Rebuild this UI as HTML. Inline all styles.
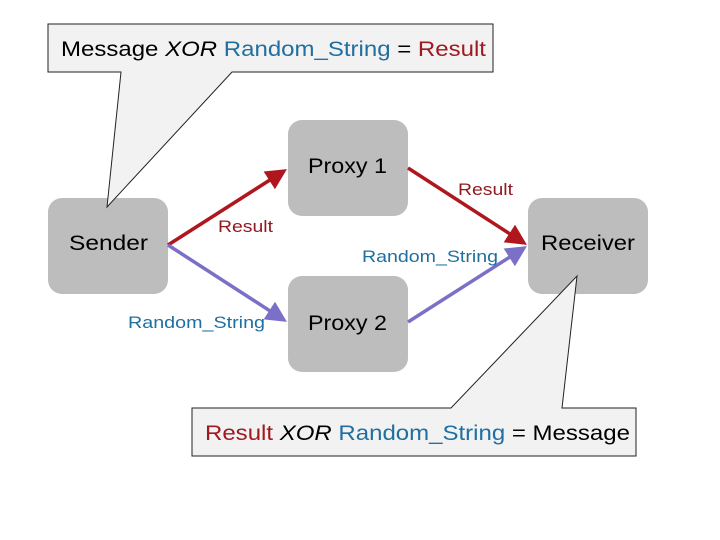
<!DOCTYPE html>
<html><head><meta charset="utf-8"><style>
body{margin:0;width:720px;height:540px;background:#fff;overflow:hidden}
svg{display:block}
text{font-family:"Liberation Sans",sans-serif}
</style></head><body>
<svg width="720" height="540" viewBox="0 0 720 540">
<defs>
<marker id="r" markerWidth="6" markerHeight="6" refX="5" refY="3" orient="auto" markerUnits="strokeWidth"><path d="M0,0 L6,3 L0,6 z" fill="#b0161e"/></marker>
<marker id="b" markerWidth="6" markerHeight="6" refX="5" refY="3" orient="auto" markerUnits="strokeWidth"><path d="M0,0 L6,3 L0,6 z" fill="#7a70c8"/></marker>
</defs>
<rect x="48" y="198" width="120" height="96" rx="14" fill="#bdbdbd"/>
<rect x="288" y="120" width="120" height="96" rx="14" fill="#bdbdbd"/>
<rect x="288" y="276" width="120" height="96" rx="14" fill="#bdbdbd"/>
<rect x="528" y="198" width="120" height="96" rx="14" fill="#bdbdbd"/>
<text x="69" y="250" font-size="21" textLength="79" lengthAdjust="spacingAndGlyphs">Sender</text>
<text x="308" y="173" font-size="21" textLength="79" lengthAdjust="spacingAndGlyphs">Proxy 1</text>
<text x="308" y="330" font-size="21" textLength="79" lengthAdjust="spacingAndGlyphs">Proxy 2</text>
<text x="541" y="250" font-size="21" textLength="94" lengthAdjust="spacingAndGlyphs">Receiver</text>
<line x1="168" y1="245" x2="284" y2="171" stroke="#b0161e" stroke-width="3.5" marker-end="url(#r)"/>
<line x1="408" y1="168" x2="524" y2="243" stroke="#b0161e" stroke-width="3.5" marker-end="url(#r)"/>
<line x1="168" y1="245" x2="284" y2="320" stroke="#7a70c8" stroke-width="3.5" marker-end="url(#b)"/>
<line x1="408" y1="322" x2="524" y2="248" stroke="#7a70c8" stroke-width="3.5" marker-end="url(#b)"/>
<text x="218" y="232" font-size="17" fill="#8f1a20" textLength="55" lengthAdjust="spacingAndGlyphs">Result</text>
<text x="458" y="195" font-size="17" fill="#8f1a20" textLength="55" lengthAdjust="spacingAndGlyphs">Result</text>
<text x="362" y="262" font-size="17" fill="#1f6fa0" textLength="136" lengthAdjust="spacingAndGlyphs">Random_String</text>
<text x="128" y="328" font-size="17" fill="#1f6fa0" textLength="137" lengthAdjust="spacingAndGlyphs">Random_String</text>
<polygon points="48,24 493,24 493,72 232,72 107,207 121,72 48,72" fill="#f2f2f2" stroke="#222" stroke-width="1"/>
<text x="61" y="56" font-size="21" textLength="425" lengthAdjust="spacingAndGlyphs"><tspan>Message </tspan><tspan font-style="italic">XOR</tspan><tspan fill="#1f6fa0"> Random_String</tspan><tspan> = </tspan><tspan fill="#a01820">Result</tspan></text>
<polygon points="192,408 451,408 577,276 562,408 636,408 636,456 192,456" fill="#f2f2f2" stroke="#222" stroke-width="1"/>
<text x="205" y="440" font-size="21" textLength="425" lengthAdjust="spacingAndGlyphs"><tspan fill="#a01820">Result </tspan><tspan font-style="italic">XOR</tspan><tspan fill="#1f6fa0"> Random_String</tspan><tspan> = Message</tspan></text>
</svg>
</body></html>
